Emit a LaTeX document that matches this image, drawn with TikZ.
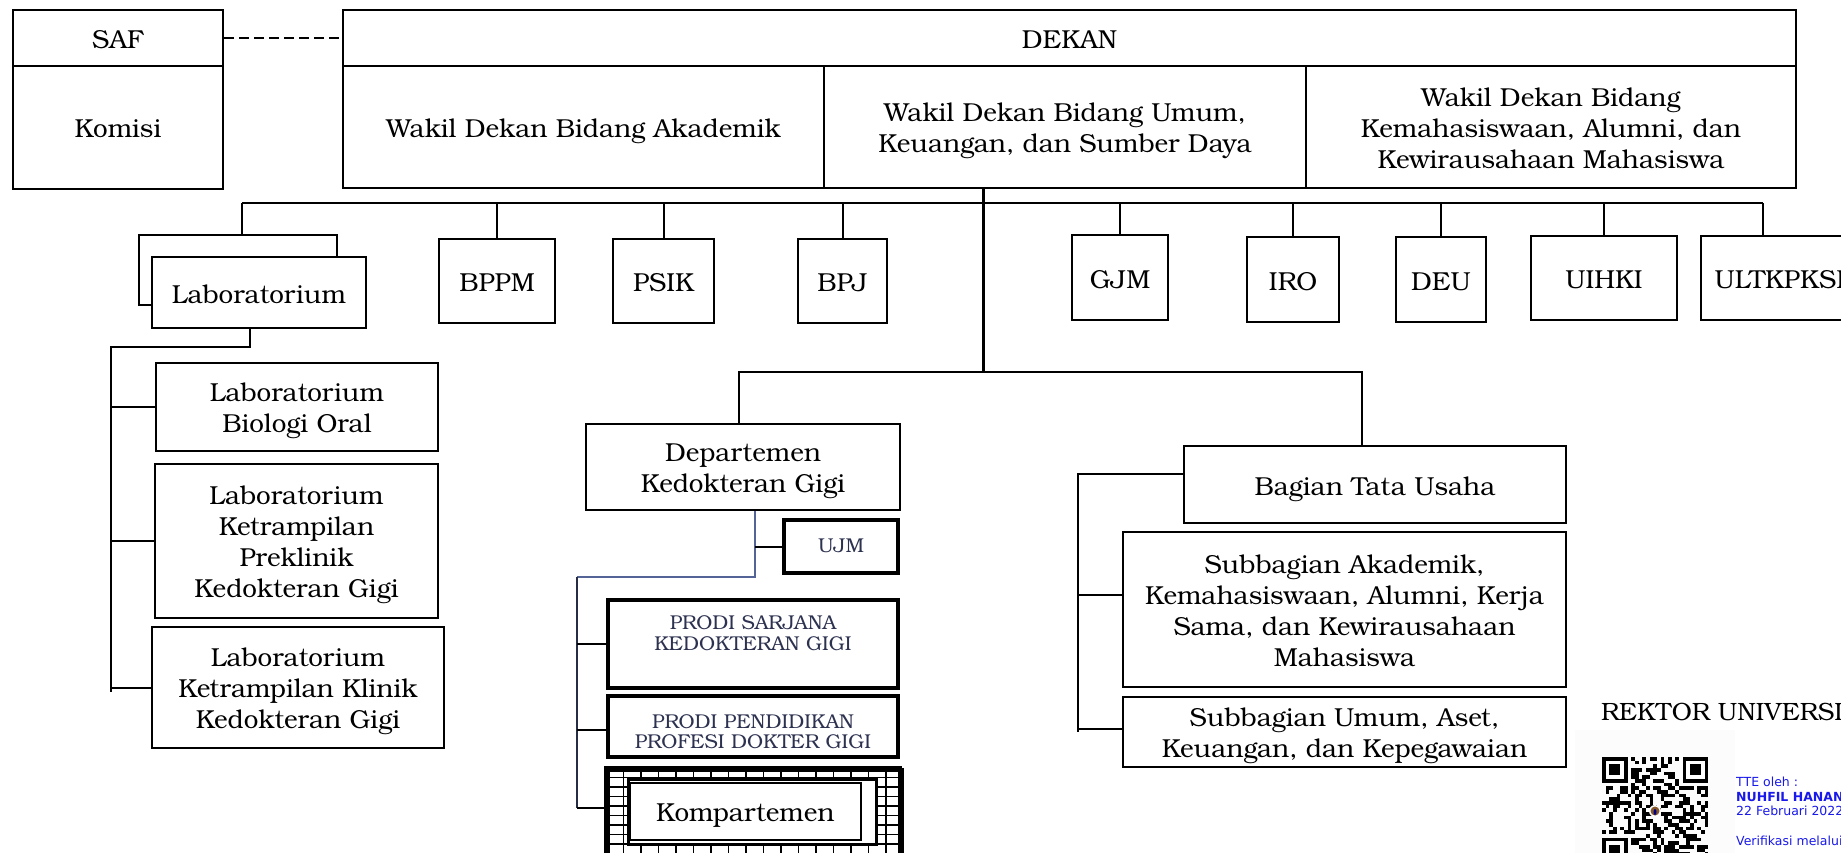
\documentclass[tikz,border=0pt]{standalone}
\usepackage{fontspec}
\setmainfont{texgyrebonum}[Extension=.otf, UprightFont=*-regular, BoldFont=*-bold, ItalicFont=*-italic, BoldItalicFont=*-bolditalic]
\newfontfamily\qrfont{DejaVu Sans}
\newcommand{\mlines}[1]{\begin{tabular}[t]{@{}c@{}}#1\end{tabular}}
\definecolor{prodi}{RGB}{45,50,80}
\definecolor{bluecon}{RGB}{85,100,150}
\definecolor{darkcon}{RGB}{40,45,70}
\definecolor{tteblue}{RGB}{25,25,235}
\tikzset{
  box/.style={draw, line width=2.2pt, fill=white, inner sep=0pt,
    font=\fontsize{26}{31}\selectfont,
    execute at begin node={\vrule height 30pt width 0pt},
    execute at end node={\vrule depth 9pt height 0pt width 0pt}},
  thickbox/.style={box, line width=4pt, text=prodi, font=\fontsize{20}{20.5}\selectfont},
  vtop/.style={execute at begin node={\vrule height #1 width 0pt}},
  vbot/.style={execute at end node={\vrule depth #1 height 0pt width 0pt}},
  conn/.style={line width=2pt},
  trunk/.style={line width=3pt},
  blueconn/.style={line width=2pt, draw=bluecon},
}
\begin{document}
\begin{tikzpicture}[x=1pt,y=-1pt]
\useasboundingbox (0,0) rectangle (1841,853);
\clip (0,0) rectangle (1841,853);
\fill[white] (0,0) rectangle (1841,853);

% ---- top
\node[box, minimum width=210pt, minimum height=56pt] (saf) at (118,38) {SAF};
\node[box, minimum width=210pt, minimum height=123pt] (komisi) at (118,127.5) {Komisi};
\node[box, minimum width=1453pt, minimum height=56pt] (dekan) at (1069.5,38) {DEKAN};
\node[box, minimum width=481pt, minimum height=122pt] (wd1) at (583.5,127) {Wakil Dekan Bidang Akademik};
\node[box, minimum width=482pt, minimum height=122pt] (wd2) at (1065,127) {\mlines{Wakil Dekan Bidang Umum,\\Keuangan, dan Sumber Daya}};
\node[box, minimum width=490pt, minimum height=122pt] (wd3) at (1551,127) {\mlines{Wakil Dekan Bidang\\Kemahasiswaan, Alumni, dan\\Kewirausahaan Mahasiswa}};
\draw[line width=2pt, dash pattern=on 10pt off 5pt] (saf.east |- dekan.west) -- (dekan.west);

% ---- second row
\node[box, minimum width=198pt, minimum height=70pt] (labback) at (238,270) {};
\node[box, minimum width=214pt, minimum height=71pt] (labf) at (259,292.5) {Laboratorium};
\node[box, minimum width=116pt, minimum height=84pt] (bppm) at (497,281) {BPPM};
\node[box, minimum width=101pt, minimum height=84pt] (psik) at (663.5,281) {PSIK};
\node[box, minimum width=89pt, minimum height=84pt] (bpj) at (842.5,281) {BPJ};
\node[box, minimum width=96pt, minimum height=85pt] (gjm) at (1120,277.5) {GJM};
\node[box, minimum width=92pt, minimum height=85pt] (iro) at (1293,279.5) {IRO};
\node[box, minimum width=90pt, minimum height=85pt] (deu) at (1441,279.5) {DEU};
\node[box, minimum width=146pt, minimum height=84pt] (uihki) at (1604,278) {UIHKI};
\node[box, minimum width=165pt, minimum height=84pt] (ult) at (1783.5,278) {ULTKPKSP};

\coordinate (busL) at (242,203);
\coordinate (busR) at (1763,203);
\draw[conn] (busL) -- (busR);
\draw[conn] ([xshift=4pt]labback.north) -- ([xshift=4pt]labback.north |- busL);
\foreach \n in {bppm,psik,bpj,gjm,iro,deu,uihki}{
  \draw[conn] (\n.north) -- (\n.north |- busL);
}
\draw[conn] ([xshift=-20.5pt]ult.north) -- ([xshift=-20.5pt]ult.north |- busR);

% ---- laboratorium branch
\node[box, minimum width=282pt, minimum height=88pt] (lbo) at (297,407) {\mlines{Laboratorium\\Biologi Oral}};
\node[box, minimum width=283pt, minimum height=154pt, vtop=25.4pt] (lkp) at (296.5,541) {\mlines{Laboratorium\\Ketrampilan\\Preklinik\\Kedokteran Gigi}};
\node[box, minimum width=292pt, minimum height=121pt] (lkk) at (298,687.5) {\mlines{Laboratorium\\Ketrampilan Klinik\\Kedokteran Gigi}};
\coordinate (labV) at (111,347);
\coordinate (labVb) at (111,692);
\draw[conn] ([xshift=-9pt]labf.south) |- (labV) -- (labVb);
\foreach \n in {lbo,lkp,lkk}{
  \draw[conn] (\n.west) -- (\n.west -| labV);
}

% ---- central trunk
\coordinate (trunkTop) at (983,188);
\coordinate (trunkMid) at (983,372);
\draw[trunk] (trunkTop) -- (trunkMid);

\node[box, minimum width=314pt, minimum height=86pt] (dep) at (743,467) {\mlines{Departemen\\Kedokteran Gigi}};
\node[box, minimum width=382pt, minimum height=77pt] (bag) at (1375,484.5) {Bagian Tata Usaha};
\draw[conn] ([xshift=-4pt]dep.north) |- (trunkMid) -| ([xshift=-13pt]bag.north);

% ---- departemen children
\node[thickbox, minimum width=114pt, minimum height=53pt, vtop=0pt, vbot=18.6pt] (ujm) at (841,546.5) {UJM};
\node[thickbox, minimum width=290pt, minimum height=85pt, vtop=15pt, vbot=58pt] (ps) at (753,643.5) {\mlines{PRODI SARJANA\\KEDOKTERAN GIGI\\ ~}};
\node[thickbox, minimum width=290pt, minimum height=61pt, vtop=16pt] (pp) at (753,726.5) {\mlines{PRODI PENDIDIKAN\\PROFESI DOKTER GIGI}};

% Kompartemen hatched frame
\node[draw, line width=4pt, fill=white, inner sep=0pt, minimum width=294pt, minimum height=120pt, anchor=north west] (kompout) at (606,768) {};
\begin{scope}
  \clip (606,768) rectangle (900,890);
  \foreach \k in {0,...,17}{ \draw[line width=1.8pt] (606+\k*17.5,768) -- ++(0,122); }
  \foreach \k in {0,...,13}{ \draw[line width=1.8pt] (606,768+\k*9.5) -- ++(294,0); }
\end{scope}
\draw[line width=4pt] (606,768) rectangle (900,890);
\node[draw, line width=3pt, fill=white, inner sep=0pt, minimum width=248pt, minimum height=65pt, anchor=north west] (kframe) at (627,778) {};
\node[box, line width=1.5pt, minimum width=231pt, minimum height=57pt, anchor=north west] (komp) at (629,782) {Kompartemen};

\coordinate (depTurn) at (755,577);
\coordinate (prodiV) at (577,577);
\coordinate (prodiBot) at (577,808);
\draw[blueconn] ([xshift=12pt]dep.south) -- (depTurn) -- (prodiV);
\draw[conn, draw=darkcon] (prodiV) -- (prodiBot);
\draw[conn] (ujm.west) -- (ujm.west -| depTurn);
\draw[conn] (ps.west) -- (ps.west -| prodiV);
\draw[conn] ([yshift=-3pt]pp.west) -- ([yshift=-3pt]pp.west -| prodiV);
\draw[conn] (prodiBot) -- (prodiBot -| kompout.west);

% ---- bagian tata usaha children
\node[box, minimum width=443pt, minimum height=155pt] (sa) at (1344.5,609.5) {\mlines{Subbagian Akademik,\\Kemahasiswaan, Alumni, Kerja\\Sama, dan Kewirausahaan\\Mahasiswa}};
\node[box, minimum width=443pt, minimum height=70pt] (su) at (1344.5,732) {\mlines{Subbagian Umum, Aset,\\Keuangan, dan Kepegawaian}};
\coordinate (bagV) at (1078,474);
\coordinate (bagVb) at (1078,732);
\draw[conn] ([yshift=10.5pt]bag.west) -- (bagV) -- (bagVb);
\draw[conn] ([yshift=14.5pt]sa.west) -- ([yshift=14.5pt]sa.west -| bagV);
\draw[conn] ([yshift=3pt]su.west) -- ([yshift=3pt]su.west -| bagV);

% ---- signature block
\node[anchor=base west, inner sep=0pt, font=\fontsize{25}{30}\selectfont] (rektor) at (1601,720) {REKTOR UNIVERSITAS};
\fill[black!1] (1575,730) rectangle (1735,853);
\begin{scope}
  \pgfmathsetseed{4217}
  \foreach \i in {0,...,28}{
    \foreach \j in {0,...,28}{
      \pgfmathtruncatemacro\inF{((\i<8)&&(\j<8))||((\i>20)&&(\j<8))||((\i<8)&&(\j>20))}
      \pgfmathtruncatemacro\rr{rnd<0.5}
      \ifnum\inF=0 \ifnum\rr=1 \fill (1602+\i*3.66,757+\j*3.66) rectangle ++(3.66,3.66); \fi\fi
    }
  }
  \foreach \fx/\fy in {0/0,22/0,0/22}{
    \fill (1602+\fx*3.66,757+\fy*3.66) rectangle ++(25.62,25.62);
    \fill[white] (1602+\fx*3.66+3.66,757+\fy*3.66+3.66) rectangle ++(18.3,18.3);
    \fill (1602+\fx*3.66+7.32,757+\fy*3.66+7.32) rectangle ++(10.98,10.98);
  }
  \fill[white] (1655,811) circle (6);
  \fill[brown!70!black] (1655,811) circle (4.5);
  \fill[blue!50!black] (1655,812) ellipse (1.5 and 3);
\end{scope}
\node[anchor=north west, inner sep=0pt, align=left, text=tteblue, font=\qrfont\fontsize{12.5}{14.8}\selectfont] (tte) at (1736,776.5) {TTE oleh :\\\textbf{NUHFIL HANANI}\\22 Februari 2022\\[14.8pt]Verifikasi melalui};
\end{tikzpicture}
\end{document}
